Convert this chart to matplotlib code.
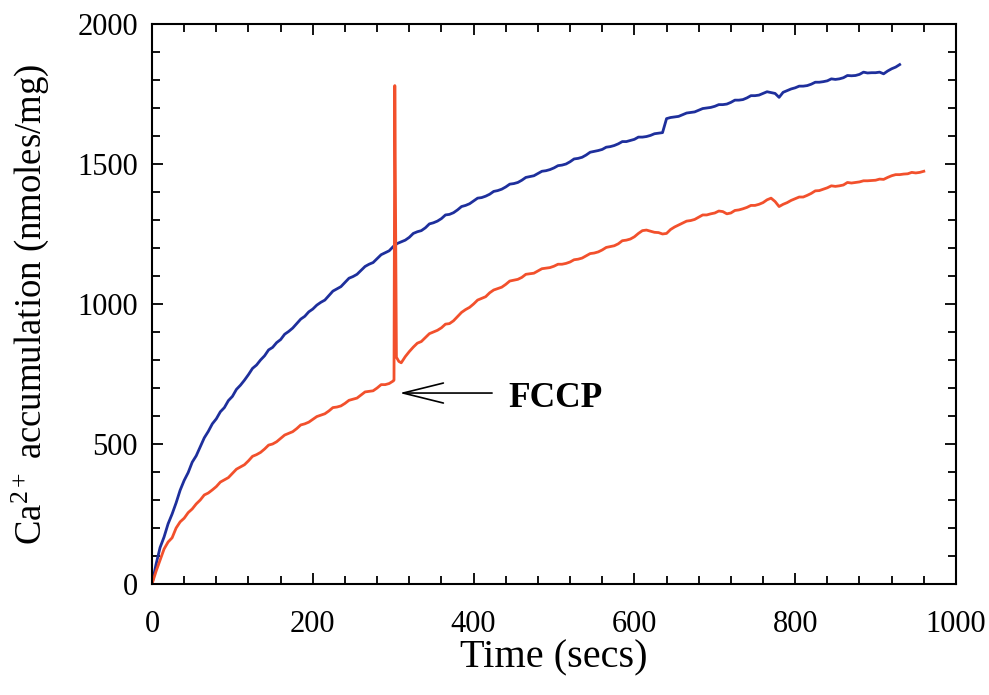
import matplotlib
matplotlib.use("Agg")
import matplotlib.pyplot as plt
from matplotlib.ticker import MultipleLocator

plt.rcParams['font.family'] = ['Liberation Serif', 'DejaVu Serif']
plt.rcParams['mathtext.fontset'] = 'custom'
plt.rcParams['mathtext.rm'] = 'Liberation Serif'
plt.rcParams['mathtext.it'] = 'Liberation Serif:italic'
plt.rcParams['mathtext.bf'] = 'Liberation Serif:bold'

# Control trace (blue)
blue_t = [0, 5, 10, 15, 20, 25, 30, 35, 40, 45, 50, 55, 60, 65, 70, 75, 80, 85, 90, 95,
          100, 105, 110, 115, 120, 125, 130, 135, 140, 145, 150, 155, 160, 165, 170, 175, 180, 185, 190, 195,
          200, 205, 210, 215, 220, 225, 230, 235, 240, 245, 250, 255, 260, 265, 270, 275, 280, 285, 290, 295,
          300, 305, 310, 315, 320, 325, 330, 335, 340, 345, 350, 355, 360, 365, 370, 375, 380, 385, 390, 395,
          400, 405, 410, 415, 420, 425, 430, 435, 440, 445, 450, 455, 460, 465, 470, 475, 480, 485, 490, 495,
          500, 505, 510, 515, 520, 525, 530, 535, 540, 545, 550, 555, 560, 565, 570, 575, 580, 585, 590, 595,
          600, 605, 610, 615, 620, 625, 630, 635, 640, 645, 650, 655, 660, 665, 670, 675, 680, 685, 690, 695,
          700, 705, 710, 715, 720, 725, 730, 735, 740, 745, 750, 755, 760, 765, 770, 775, 780, 785, 790, 795,
          800, 805, 810, 815, 820, 825, 830, 835, 840, 845, 850, 855, 860, 865, 870, 875, 880, 885, 890, 895,
          900, 905, 910, 915, 920, 925, 930]
blue_v = [0, 70, 130, 168, 215, 250, 290, 335, 370, 398, 435, 458, 490, 522, 545, 572, 590, 615, 630, 655,
          670, 695, 710, 728, 748, 770, 782, 800, 815, 836, 845, 862, 873, 892, 902, 914, 930, 946, 956, 972,
          982, 996, 1006, 1014, 1030, 1046, 1054, 1062, 1077, 1092, 1098, 1106, 1120, 1134, 1142, 1148, 1162, 1176, 1183, 1190,
          1205, 1216, 1222, 1228, 1238, 1252, 1258, 1262, 1272, 1286, 1290, 1296, 1305, 1318, 1320, 1326, 1336, 1348, 1352, 1358,
          1368, 1378, 1380, 1385, 1392, 1402, 1405, 1410, 1418, 1428, 1430, 1434, 1442, 1452, 1455, 1458, 1466, 1474, 1476, 1480,
          1486, 1494, 1496, 1500, 1508, 1518, 1520, 1524, 1532, 1542, 1545, 1548, 1552, 1560, 1562, 1566, 1572, 1580, 1580, 1584,
          1588, 1596, 1596, 1598, 1602, 1608, 1610, 1612, 1662, 1666, 1668, 1670, 1676, 1682, 1684, 1686, 1692, 1698, 1700, 1702,
          1706, 1712, 1712, 1714, 1720, 1728, 1728, 1730, 1736, 1744, 1744, 1746, 1752, 1758, 1755, 1752, 1738, 1756, 1762, 1768,
          1772, 1778, 1778, 1780, 1785, 1792, 1792, 1794, 1797, 1804, 1802, 1804, 1808, 1816, 1815, 1816, 1820, 1828, 1825, 1826,
          1826, 1828, 1822, 1832, 1840, 1846, 1855]

# FCCP trace (red)
red_t = [0, 5, 10, 15, 20, 25, 30, 35, 40, 45, 50, 55, 60, 65, 70, 75, 80, 85, 90, 95,
         100, 105, 110, 115, 120, 125, 130, 135, 140, 145, 150, 155, 160, 165, 170, 175, 180, 185, 190, 195,
         200, 205, 210, 215, 220, 225, 230, 235, 240, 245, 250, 255, 260, 265, 270, 275, 280, 285, 290, 295,
         300, 301, 302, 304, 307, 310, 315, 320, 325, 330, 335, 340, 345, 350, 355, 360, 365, 370, 375, 380, 385, 390, 395,
         400, 405, 410, 415, 420, 425, 430, 435, 440, 445, 450, 455, 460, 465, 470, 475, 480, 485, 490, 495,
         500, 505, 510, 515, 520, 525, 530, 535, 540, 545, 550, 555, 560, 565, 570, 575, 580, 585, 590, 595,
         600, 605, 610, 615, 620, 625, 630, 635, 640, 645, 650, 655, 660, 665, 670, 675, 680, 685, 690, 695,
         700, 705, 710, 715, 720, 725, 730, 735, 740, 745, 750, 755, 760, 765, 770, 775, 780, 785, 790, 795,
         800, 805, 810, 815, 820, 825, 830, 835, 840, 845, 850, 855, 860, 865, 870, 875, 880, 885, 890, 895,
         900, 905, 910, 915, 920, 925, 930, 935, 940, 945, 950, 955, 960]
red_v = [0, 45, 85, 125, 150, 165, 200, 222, 235, 255, 268, 286, 300, 318, 325, 336, 348, 364, 372, 380,
         395, 410, 418, 426, 440, 456, 462, 470, 482, 496, 500, 508, 520, 532, 538, 544, 555, 568, 572, 578,
         588, 598, 603, 608, 618, 630, 632, 636, 645, 656, 660, 664, 675, 686, 688, 690, 700, 712, 712, 716,
         725, 728, 1780, 810, 795, 790, 812, 830, 846, 860, 866, 880, 894, 900, 906, 915, 928, 930, 940, 955, 970, 980, 988,
         1000, 1014, 1020, 1026, 1040, 1050, 1055, 1060, 1070, 1082, 1085, 1088, 1095, 1106, 1108, 1110, 1118, 1126, 1128, 1130,
         1135, 1142, 1142, 1145, 1150, 1158, 1160, 1164, 1172, 1180, 1182, 1186, 1193, 1202, 1205, 1208, 1215, 1226, 1228, 1232,
         1240, 1252, 1262, 1264, 1260, 1256, 1255, 1250, 1252, 1266, 1275, 1282, 1289, 1296, 1298, 1302, 1310, 1318, 1318, 1322,
         1325, 1332, 1330, 1322, 1325, 1334, 1336, 1340, 1345, 1352, 1352, 1356, 1362, 1372, 1378, 1366, 1348, 1356, 1362, 1370,
         1376, 1382, 1382, 1388, 1395, 1404, 1405, 1410, 1415, 1422, 1420, 1422, 1425, 1434, 1432, 1434, 1436, 1440, 1440, 1441,
         1442, 1446, 1445, 1452, 1458, 1462, 1462, 1464, 1465, 1470, 1468, 1470, 1474]

x_ticks = [0, 200, 400, 600, 800, 1000]
y_ticks = [0, 500, 1000, 1500, 2000]

fig = plt.figure(figsize=(9.89, 6.95), dpi=100)
ax = fig.add_axes([0.1537, 0.1597, 0.8129, 0.8058])

ax.plot(blue_t, blue_v, color='#1e2f9c', lw=2.0)
ax.plot(red_t, red_v, color='#f2502c', lw=2.0)

ax.set_xlim(0, 1000)
ax.set_ylim(0, 2000)
ax.set_xticks(x_ticks)
ax.set_yticks(y_ticks)
ax.xaxis.set_minor_locator(MultipleLocator(40))
ax.yaxis.set_minor_locator(MultipleLocator(100))
ax.tick_params(which='both', direction='in', top=True, right=True, width=1.3)
ax.tick_params(which='major', length=8, labelsize=22)
ax.tick_params(axis='x', which='major', pad=19)
ax.tick_params(axis='y', which='major', pad=10)
ax.tick_params(which='minor', length=6)
for s in ax.spines.values():
    s.set_linewidth(1.5)

ax.set_xlabel('Time (secs)', fontsize=29, labelpad=0)
ax.set_ylabel('Ca$^{2+}$ accumulation (nmoles/mg)', fontsize=26.5, labelpad=19)

ax.annotate('', xy=(308, 682), xytext=(423, 682),
            arrowprops=dict(arrowstyle='->,head_length=1.45,head_width=0.36',
                            mutation_scale=20, lw=1.2, color='black',
                            shrinkA=0, shrinkB=0))
ax.text(443, 664, 'FCCP', fontsize=25.5, fontweight='bold', va='center', ha='left')

fig.savefig('out.png', dpi=100)
